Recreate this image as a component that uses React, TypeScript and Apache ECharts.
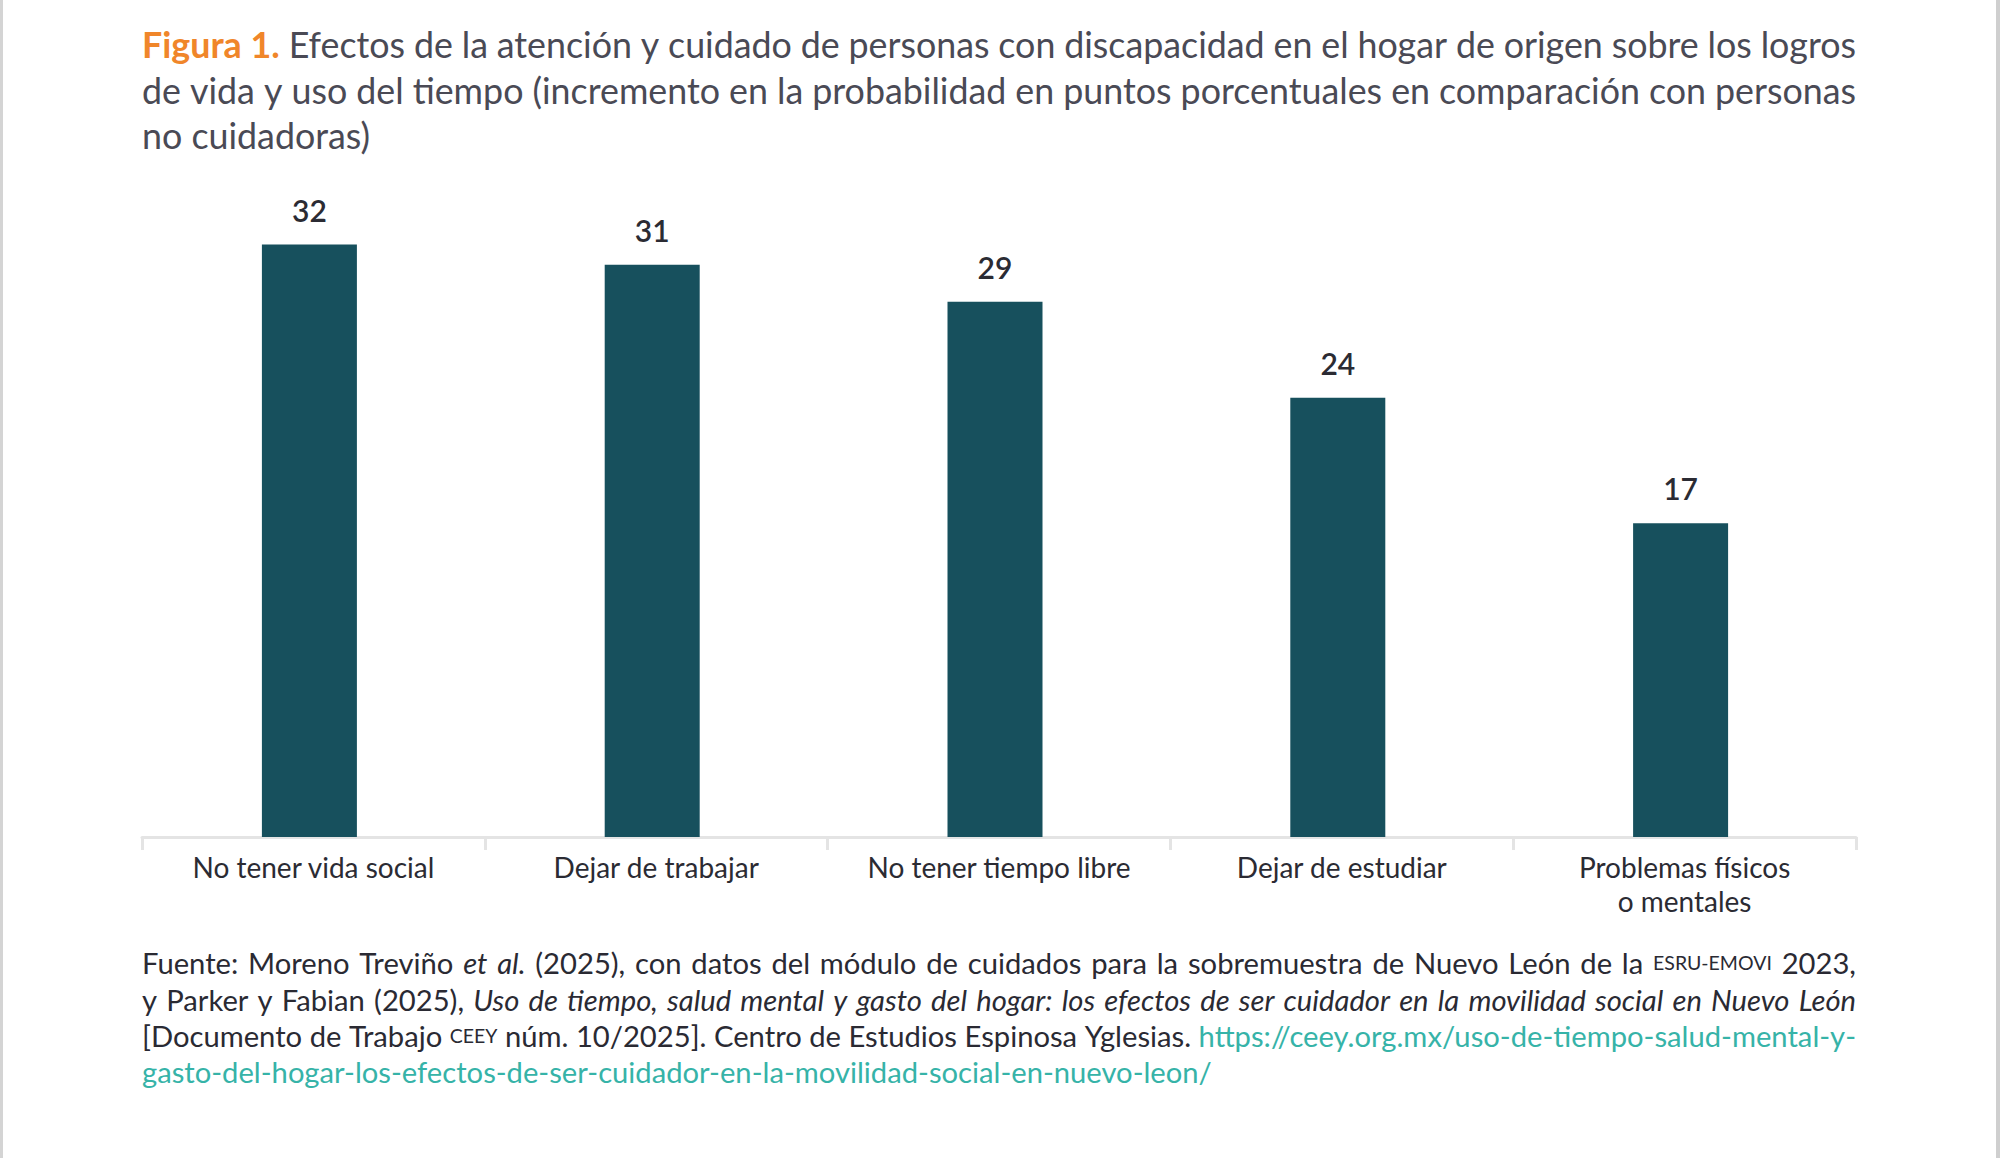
import React, { useEffect, useRef } from "react";
import * as echarts from "echarts";

const categories = [
  "No tener vida social",
  "Dejar de trabajar",
  "No tener tiempo libre",
  "Dejar de estudiar",
  "Problemas físicos\no mentales",
];
const values = [32.1, 31, 29, 23.8, 17];

type Run = { t: string; s: string };

const titleLines: Run[][] = [
  [
    { t: "Figura 1.", s: "o" },
    { t: " Efectos de la atención y cuidado de personas con discapacidad en el hogar de origen sobre los logros", s: "n" },
  ],
  [{ t: "de vida y uso del tiempo (incremento en la probabilidad en puntos porcentuales en comparación con personas", s: "n" }],
  [{ t: "no cuidadoras)", s: "n" }],
];
const titleJustify = [true, true, false];

const footerLines: Run[][] = [
  [
    { t: "Fuente: Moreno Treviño ", s: "n" },
    { t: "et al.", s: "i" },
    { t: " (2025), con datos del módulo de cuidados para la sobremuestra de Nuevo León de la ", s: "n" },
    { t: "ESRU-EMOVI", s: "s" },
    { t: " 2023,", s: "n" },
  ],
  [
    { t: "y Parker y Fabian (2025), ", s: "n" },
    { t: "Uso de tiempo, salud mental y gasto del hogar: los efectos de ser cuidador en la movilidad social en Nuevo León", s: "i" },
  ],
  [
    { t: "[Documento de Trabajo ", s: "n" },
    { t: "CEEY", s: "s" },
    { t: " núm. 10/2025]. Centro de Estudios Espinosa Yglesias. ", s: "n" },
    { t: "https://ceey.org.mx/uso-de-tiempo-salud-mental-y-", s: "l" },
  ],
  [{ t: "gasto-del-hogar-los-efectos-de-ser-cuidador-en-la-movilidad-social-en-nuevo-leon/", s: "l" }],
];
const footerJustify = [true, true, true, false];

const FONT = "Lato, 'Noto Sans', sans-serif";
const LEFT = 142;
const RIGHT = 1856;

type St = { fontSize: number; fontWeight?: string; fontStyle?: string; fill: string; lineHeight?: number };

function buildRich(runs: Run[], styles: Record<string, St>, justify: boolean, target: number, base: St) {
  const canvas = document.createElement("canvas");
  const ctx = canvas.getContext("2d")!;
  const measure = (text: string, st: St) => {
    ctx.font = `${st.fontStyle || "normal"} ${st.fontWeight || "normal"} ${st.fontSize}px ${FONT}`;
    return ctx.measureText(text).width;
  };
  const tokens: { text: string; s: string | null }[] = [];
  runs.forEach((r) => {
    const parts = r.t.split(" ");
    parts.forEach((p, i) => {
      if (i > 0) tokens.push({ text: " ", s: null });
      if (p.length) tokens.push({ text: p, s: r.s });
    });
  });
  let wordsW = 0;
  let nSp = 0;
  tokens.forEach((tk) => {
    if (tk.s === null) nSp++;
    else wordsW += measure(tk.text, styles[tk.s]);
  });
  const natural = measure(" ", base);
  const spW = justify && nSp > 0 ? (target - wordsW) / nSp : natural;
  const text = tokens.map((tk) => (tk.s === null ? "{sp| }" : `{${tk.s}|${tk.text}}`)).join("");
  const rich: any = { sp: { ...base, fontFamily: FONT, width: spW } };
  Object.keys(styles).forEach((k) => {
    rich[k] = { ...styles[k], fontFamily: FONT };
  });
  return { text, rich };
}

export default function App() {
  const ref = useRef<HTMLDivElement>(null);
  useEffect(() => {
    document.body.style.margin = "0";
    const chart = echarts.init(ref.current!, null, { renderer: "svg" });
    const titleY = [44, 90, 135];
    const footY = [962, 999, 1035, 1071];
    const tSize = 35.8;
    const titleStyles: Record<string, St> = {
      o: { fontSize: tSize, fontWeight: "bold", fill: "#f0862a", lineHeight: 44 },
      n: { fontSize: tSize, fill: "#4a4a55", lineHeight: 44 },
    };
    const fSize = 29.2;
    const footStyles: Record<string, St> = {
      n: { fontSize: fSize, fill: "#2a2a33", lineHeight: 36 },
      i: { fontSize: fSize, fontStyle: "italic", fill: "#2a2a33", lineHeight: 36 },
      s: { fontSize: 19.5, fill: "#2a2a33", lineHeight: 36 },
      l: { fontSize: fSize, fill: "#36b3a8", lineHeight: 36 },
    };
    const graphics: any[] = [
      { type: "rect", shape: { x: 0, y: 0, width: 3, height: 1158 }, style: { fill: "#d4d4d4" } },
      { type: "rect", shape: { x: 1996, y: 0, width: 4, height: 1158 }, style: { fill: "#cfcfcf" } },
    ];
    titleLines.forEach((runs, i) => {
      const { text, rich } = buildRich(runs, titleStyles, titleJustify[i], RIGHT - LEFT, titleStyles.n);
      graphics.push({
        type: "text",
        x: LEFT,
        y: titleY[i],
        style: { text, rich, fontFamily: FONT, fontSize: tSize, fill: "#4a4a55", verticalAlign: "middle" },
      });
    });
    footerLines.forEach((runs, i) => {
      const { text, rich } = buildRich(runs, footStyles, footerJustify[i], RIGHT - LEFT, footStyles.n);
      graphics.push({
        type: "text",
        x: LEFT,
        y: footY[i],
        style: { text, rich, fontFamily: FONT, fontSize: fSize, fill: "#2a2a33", verticalAlign: "middle" },
      });
    });
    chart.setOption({
      animation: false,
      grid: { left: LEFT, right: 2000 - RIGHT, top: 191, bottom: 321 },
      xAxis: {
        type: "category",
        data: categories,
        boundaryGap: true,
        axisLine: { show: true, lineStyle: { color: "#e4e4e4", width: 3 } },
        axisTick: { show: true, length: 13, lineStyle: { color: "#e4e4e4", width: 3 } },
        axisLabel: {
          margin: 13,
          fontSize: 28,
          lineHeight: 34,
          color: "#2b2b33",
          fontFamily: FONT,
          interval: 0,
        },
      },
      yAxis: { type: "value", min: 0, max: 35, show: false },
      series: [
        {
          type: "bar",
          data: values,
          barWidth: 95,
          barGap: "0%",
          itemStyle: { color: "#17505d" },
          label: {
            show: true,
            position: "top",
            distance: 20,
            fontSize: 30,
            fontWeight: 600,
            color: "#2b2b33",
            fontFamily: FONT,
            formatter: (p: any) => String(Math.round(p.value)),
          },
        },
        {
          type: "bar",
          data: values.map(() => null),
          barWidth: 8,
          silent: true,
        },
      ],
      graphic: graphics,
    });
    return () => chart.dispose();
  }, []);
  return <div ref={ref} style={{ width: 2000, height: 1158, background: "#fff" }} />;
}
